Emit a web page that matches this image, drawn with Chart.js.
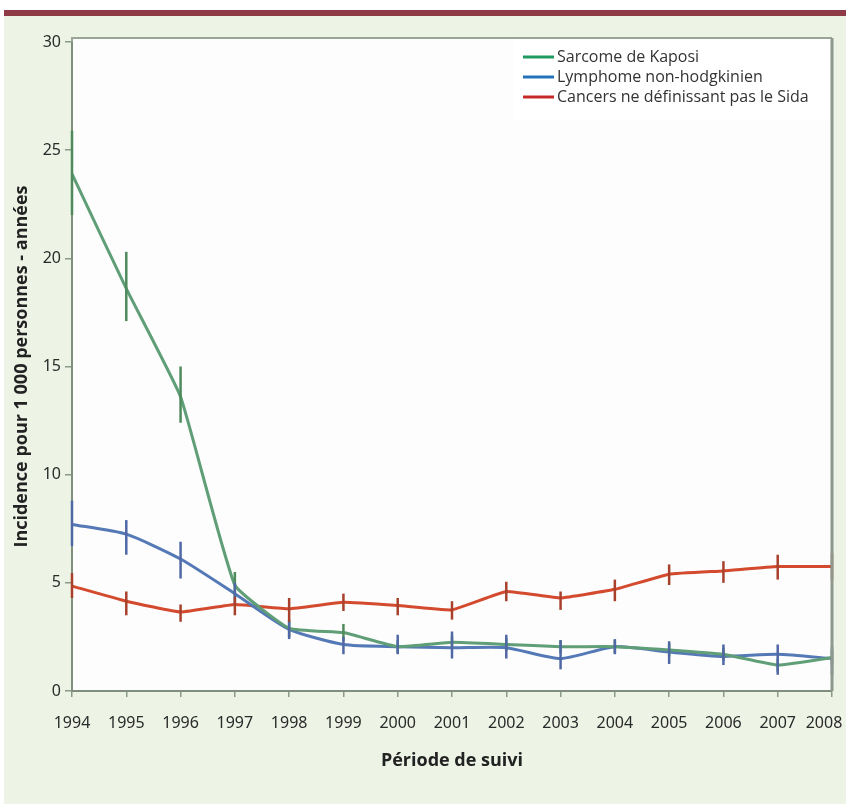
<!DOCTYPE html>
<html>
<head>
<meta charset="utf-8">
<script src="https://cdn.jsdelivr.net/npm/chart.js@4.4.1/dist/chart.umd.min.js"></script>
<style>
  html, body { margin: 0; padding: 0; background: #fff; }
  #bar { position: absolute; left: 4px; top: 10px; width: 842px; height: 6px; background: #8e3a47; }
  #panel { position: absolute; left: 4px; top: 16px; width: 842px; height: 788px; background: #edf3e5; }
</style>
</head>
<body>
<div id="bar"></div>
<div id="panel"><canvas id="incChart"></canvas></div>
<script>
// Incidence des cancers pour 1 000 personnes-années
const years = ["1994","1995","1996","1997","1998","1999","2000","2001","2002","2003","2004","2005","2006","2007","2008"];

const kaposi     = [23.9, 18.6, 13.6, 4.9, 2.9, 2.7, 2.05, 2.25, 2.15, 2.05, 2.05, 1.9, 1.7, 1.2, 1.55];
const kaposiLow  = [22.0, 17.1, 12.4, 4.3, 2.5, 2.3, 1.75, 1.95, 1.85, 1.75, 1.75, 1.6, 1.4, 0.9, 1.2];
const kaposiHigh = [25.9, 20.3, 15.0, 5.5, 3.3, 3.1, 2.35, 2.55, 2.45, 2.35, 2.35, 2.2, 2.0, 1.5, 1.9];

const lnh     = [7.7, 7.25, 6.1, 4.5, 2.85, 2.15, 2.05, 2.0, 2.0, 1.5, 2.05, 1.8, 1.6, 1.7, 1.5];
const lnhLow  = [6.7, 6.3, 5.2, 4.0, 2.4, 1.7, 1.7, 1.5, 1.5, 1.0, 1.7, 1.25, 1.2, 0.75, 0.75];
const lnhHigh = [8.8, 7.9, 6.9, 5.0, 3.2, 2.5, 2.6, 2.75, 2.6, 2.35, 2.4, 2.3, 2.15, 2.15, 2.05];

const cnds     = [4.85, 4.15, 3.65, 4.0, 3.8, 4.1, 3.95, 3.75, 4.6, 4.3, 4.7, 5.4, 5.55, 5.75, 5.75];
const cndsLow  = [4.3, 3.5, 3.2, 3.5, 3.2, 3.7, 3.5, 3.3, 4.15, 3.75, 4.15, 4.9, 5.0, 5.15, 5.15];
const cndsHigh = [5.45, 4.6, 4.0, 4.35, 4.3, 4.5, 4.3, 4.15, 5.05, 4.6, 5.15, 5.85, 6.0, 6.3, 6.35];

const legendColors = ["#1f9a63", "#2273b8", "#c62a28"];
const errColors = ["#4f8a5c", "#5068a6", "#a8402c"];

const tickFont = { family: "'Noto Sans', sans-serif", size: 16 };

// fond blanc + cadre (le cadre dépasse un peu au-dessus de 30)
const framePlugin = {
  id: "frame",
  beforeDraw(chart) {
    const { ctx, chartArea: a } = chart;
    ctx.save();
    ctx.fillStyle = "#fcfdfc";
    ctx.fillRect(a.left, a.top - 4, a.right - a.left, a.bottom - a.top + 4);
    ctx.restore();
  },
  afterDraw(chart) {
    const { ctx, chartArea: a } = chart;
    ctx.save();
    ctx.strokeStyle = "#9aa596";
    ctx.lineWidth = 2;
    ctx.beginPath();
    ctx.moveTo(a.left, a.top);
    ctx.lineTo(a.left, a.top - 4);
    ctx.lineTo(a.right, a.top - 4);
    ctx.stroke();
    ctx.strokeStyle = "#8e988c";
    ctx.lineWidth = 3;
    ctx.beginPath();
    ctx.moveTo(a.right, a.top - 4);
    ctx.lineTo(a.right, a.bottom);
    ctx.stroke();
    ctx.restore();
  }
};

// barres d'erreur verticales
const errorBars = {
  id: "errorBars",
  afterDatasetsDraw(chart) {
    const { ctx } = chart;
    const y = chart.scales.y;
    chart.data.datasets.forEach((ds, i) => {
      const meta = chart.getDatasetMeta(i);
      ctx.save();
      ctx.strokeStyle = errColors[i];
      ctx.lineWidth = 2.5;
      meta.data.forEach((pt, j) => {
        ctx.beginPath();
        ctx.moveTo(pt.x, y.getPixelForValue(ds.low[j]));
        ctx.lineTo(pt.x, y.getPixelForValue(ds.high[j]));
        ctx.stroke();
      });
      ctx.restore();
    });
  }
};

// légende dans le coin haut droit
const boxLegend = {
  id: "boxLegend",
  afterDraw(chart) {
    const { ctx, chartArea: a } = chart;
    const x0 = a.right - 318, y0 = a.top - 3;
    ctx.save();
    ctx.fillStyle = "#ffffff";
    ctx.fillRect(x0, y0, 316, 81);
    ctx.font = "16px 'Open Sans', sans-serif";
    ctx.textBaseline = "middle";
    chart.data.datasets.forEach((ds, i) => {
      const ly = y0 + 18 + i * 20;
      ctx.strokeStyle = legendColors[i];
      ctx.lineWidth = 3;
      ctx.beginPath();
      ctx.moveTo(x0 + 9, ly);
      ctx.lineTo(x0 + 40, ly);
      ctx.stroke();
      ctx.fillStyle = "#333";
      ctx.fillText(ds.label, x0 + 43, ly);
    });
    ctx.restore();
  }
};

const ctx = document.getElementById("incChart").getContext("2d");
new Chart(ctx, {
  type: "line",
  data: {
    labels: years,
    datasets: [
      {
        label: "Sarcome de Kaposi",
        data: kaposi, low: kaposiLow, high: kaposiHigh,
        borderColor: "#5f9e76",
        borderWidth: 3,
        tension: 0.12,
        pointRadius: 0,
        fill: false
      },
      {
        label: "Lymphome non-hodgkinien",
        data: lnh, low: lnhLow, high: lnhHigh,
        borderColor: "#5479b6",
        borderWidth: 3,
        tension: 0.2,
        pointRadius: 0,
        fill: false
      },
      {
        label: "Cancers ne définissant pas le Sida",
        data: cnds, low: cndsLow, high: cndsHigh,
        borderColor: "#d34a2e",
        borderWidth: 3,
        tension: 0.1,
        pointRadius: 0,
        fill: false
      }
    ]
  },
  options: {
    responsive: true,
    maintainAspectRatio: false,
    animation: false,
    layout: { padding: { left: 0, top: 26, right: 14, bottom: 0 } },
    scales: {
      x: {
        offset: false,
        grid: { drawOnChartArea: false, tickLength: 6, color: "#8a9a88", lineWidth: 1.5 },
        border: { display: true, color: "#7f8f7c", width: 2 },
        ticks: {
          color: "#2a2a2a", padding: 17, maxRotation: 0, autoSkip: false, font: tickFont,
          // le dernier libellé est décalé vers la gauche comme sur l'original
          callback(value, index) {
            const lab = this.getLabelForValue(value);
            return index === years.length - 1 ? lab + "\u2003" : lab;
          }
        },
        title: {
          display: true,
          text: "Période de suivi",
          color: "#222",
          padding: { top: 0, bottom: 32 },
          font: { family: "'Open Sans', sans-serif", size: 18, weight: "bold" }
        },
        afterFit(scale) {
          scale.height = 113;
          scale.paddingLeft = 0;
          scale.paddingRight = 0;
        }
      },
      y: {
        min: 0,
        max: 30,
        grid: { drawOnChartArea: false, tickLength: 7, color: "#8a9a88", lineWidth: 1.5 },
        border: { display: true, color: "#7f8f7c", width: 2 },
        ticks: { stepSize: 5, color: "#2a2a2a", padding: 4, font: tickFont },
        title: {
          display: true,
          text: "Incidence pour 1 000 personnes - années",
          color: "#222",
          padding: { top: 7, bottom: 0 },
          font: { family: "'Open Sans', sans-serif", size: 18, weight: "bold" }
        },
        afterFit(scale) { scale.width = 68; }
      }
    },
    plugins: {
      legend: { display: false },
      tooltip: { enabled: false }
    }
  },
  plugins: [framePlugin, errorBars, boxLegend]
});
</script>
</body>
</html>
